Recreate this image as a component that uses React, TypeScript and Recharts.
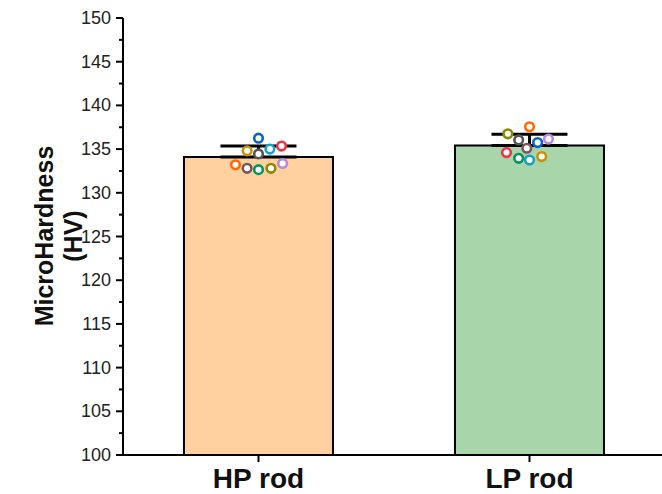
import React from 'react';
import { ComposedChart, Bar, XAxis, YAxis, Scatter, ErrorBar } from 'recharts';

const categories = ['HP rod', 'LP rod'];
const means = [134.1, 135.4];
const errUp = [1.25, 1.3];
const barColors = ['#FFD1A0', '#A9D5AB'];

const pointColors = ['#0A64C8', '#C8920A', '#555555', '#1AA0C4', '#EE3344', '#FF6A00', '#7A5858', '#00985A', '#8A8A00', '#B88AE0'];
const hpValues = [136.25, 134.8, 134.45, 135.0, 135.35, 133.2, 132.8, 132.65, 132.8, 133.35];
const hpJitter = [0.0, -0.042, 0.0, 0.042, 0.085, -0.085, -0.042, 0.0, 0.046, 0.089];
const lpValues = [135.75, 134.15, 136.05, 133.75, 134.6, 137.55, 135.1, 133.95, 136.75, 136.15];
const lpJitter = [0.03, 0.045, -0.04, 0.0, -0.085, 0.0, -0.01, -0.04, -0.08, 0.07];

const yTicks = [100, 102.5, 105, 107.5, 110, 112.5, 115, 117.5, 120, 122.5, 125, 127.5, 130, 132.5, 135, 137.5, 140, 142.5, 145, 147.5, 150];

const barData = categories.map((c, i) => ({ name: c, value: means[i], err: [0, errUp[i]], fill: barColors[i] }));
const scatterData = [
  ...hpValues.map((v, i) => ({ x: 0.5 + hpJitter[i], y: v, color: pointColors[i] })),
  ...lpValues.map((v, i) => ({ x: 1.5 + lpJitter[i], y: v, color: pointColors[i] })),
];

const FONT = 'Liberation Sans, Arial, sans-serif';

const YTick = (props: any) => {
  const { x, y, payload } = props;
  const major = Math.abs(payload.value % 5) < 1e-6;
  return (
    <g>
      <line x1={x} x2={x - (major ? 7 : 4)} y1={y} y2={y} stroke="#000" strokeWidth={2} />
      {major && (
        <text x={x - 12} y={y} dy={6} textAnchor="end" fontSize={18} fill="#222" fontFamily={FONT}>
          {payload.value}
        </text>
      )}
    </g>
  );
};

const YLabel = () => (
  <g transform="rotate(-90, 60, 236)" fontFamily={FONT} fontWeight="bold" fontSize={25} fill="#111">
    <text x={60} y={229} textAnchor="middle">MicroHardness</text>
    <text x={60} y={258} textAnchor="middle">(HV)</text>
  </g>
);

const Dot = (props: any) => {
  const { cx, cy, payload } = props;
  return <circle cx={cx} cy={cy} r={4.3} fill="#fff" stroke={payload.color} strokeWidth={2.6} />;
};

export default function App() {
  return (
    <div style={{ position: 'absolute', left: 0, top: 0, width: 662, height: 494, background: '#fff', overflow: 'hidden' }}>
      <ComposedChart width={665} height={494} data={barData} margin={{ top: 18, right: 0, bottom: 0, left: 0 }} barCategoryGap="22.5%">
        <XAxis
          dataKey="name"
          xAxisId="cat"
          height={39}
          axisLine={{ stroke: '#000', strokeWidth: 2 }}
          tickLine={{ stroke: '#000', strokeWidth: 2 }}
          tickSize={7}
          tickMargin={6}
          tick={{ fontSize: 28, fontWeight: 'bold', fill: '#111', fontFamily: FONT }}
        />
        <XAxis xAxisId="num" type="number" dataKey="x" domain={[0, 2]} hide />
        <YAxis
          width={123}
          domain={[100, 150]}
          ticks={yTicks}
          interval={0}
          type="number"
          allowDataOverflow
          axisLine={{ stroke: '#000', strokeWidth: 2 }}
          tickLine={false}
          tickSize={0}
          tickMargin={0}
          tick={<YTick />}
          label={{ content: () => <YLabel /> }}
        />
        <Bar dataKey="value" xAxisId="cat" stroke="#000" strokeWidth={2} isAnimationActive={false}>
          <ErrorBar dataKey="err" width={38} stroke="#000" strokeWidth={3} direction="y" />
        </Bar>
        <Scatter data={scatterData} dataKey="y" xAxisId="num" shape={<Dot />} isAnimationActive={false} />
      </ComposedChart>
    </div>
  );
}
